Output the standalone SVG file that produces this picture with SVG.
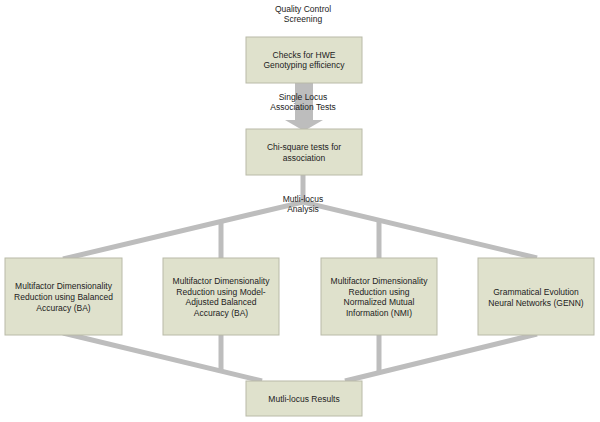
<svg xmlns="http://www.w3.org/2000/svg" width="600" height="422" viewBox="0 0 600 422">
<style>
.box{fill:#dfe1cc;stroke:#b9baa8;stroke-width:1}
.t{font-family:"Liberation Sans",Arial,sans-serif;font-size:8.5px;fill:#222;text-anchor:middle}
.ln{stroke:#bdbdbd;stroke-width:5;fill:none;stroke-linecap:butt}
</style>
<rect width="600" height="422" fill="#fff"/>
<g id="connectors">
<rect x="295" y="83" width="18" height="38" fill="#bdbdbd"/>
<polygon points="285,120 323,120 304,131" fill="#bdbdbd"/>
<line class="ln" x1="303" y1="175" x2="303" y2="203"/>
<polyline class="ln" points="63,259 303,202 537,258"/>
<line class="ln" x1="221" y1="222" x2="221" y2="258"/>
<line class="ln" x1="379" y1="220" x2="379" y2="258"/>
<polyline class="ln" points="63,333 262,381"/>
<polyline class="ln" points="537,334 345,381"/>
<line class="ln" x1="221" y1="335" x2="221" y2="371"/>
<line class="ln" x1="379" y1="335" x2="379" y2="371"/>
</g>
<g id="label-qc">
<text class="t" x="303" y="12">Quality Control</text>
<text class="t" x="303" y="22">Screening</text>
</g>
<g id="node-hwe">
<rect class="box" x="246" y="37" width="116" height="46"/>
<text class="t" x="304" y="57.5">Checks for HWE</text>
<text class="t" x="304" y="67.5">Genotyping efficiency</text>
</g>
<g id="label-single">
<text class="t" x="303" y="100">Single Locus</text>
<text class="t" x="303" y="110">Association Tests</text>
</g>
<g id="node-chi">
<rect class="box" x="246" y="129" width="116" height="46"/>
<text class="t" x="304" y="150">Chi-square tests for</text>
<text class="t" x="304" y="161">association</text>
</g>
<g id="label-multi">
<text class="t" x="303" y="202">Mutli-locus</text>
<text class="t" x="303" y="212">Analysis</text>
</g>
<g id="node-mdr-ba">
<rect class="box" x="5" y="258" width="117" height="77"/>
<text class="t" x="63.5" y="289">Multifactor Dimensionality</text>
<text class="t" x="63.5" y="300">Reduction using Balanced</text>
<text class="t" x="63.5" y="311">Accuracy (BA)</text>
</g>
<g id="node-mdr-maba">
<rect class="box" x="163" y="258" width="116" height="77"/>
<text class="t" x="221" y="284">Multifactor Dimensionality</text>
<text class="t" x="221" y="294.5">Reduction using Model-</text>
<text class="t" x="221" y="305">Adjusted Balanced</text>
<text class="t" x="221" y="315.5">Accuracy (BA)</text>
</g>
<g id="node-mdr-nmi">
<rect class="box" x="321" y="258" width="116" height="77"/>
<text class="t" x="379" y="284">Multifactor Dimensionality</text>
<text class="t" x="379" y="294.5">Reduction using</text>
<text class="t" x="379" y="305">Normalized Mutual</text>
<text class="t" x="379" y="315.5">Information (NMI)</text>
</g>
<g id="node-genn">
<rect class="box" x="478" y="258" width="116" height="77"/>
<text class="t" x="536" y="295">Grammatical Evolution</text>
<text class="t" x="536" y="305.5">Neural Networks (GENN)</text>
</g>
<g id="node-results">
<rect class="box" x="246" y="381" width="116" height="35"/>
<text class="t" x="304" y="402">Mutli-locus Results</text>
</g>
</svg>
